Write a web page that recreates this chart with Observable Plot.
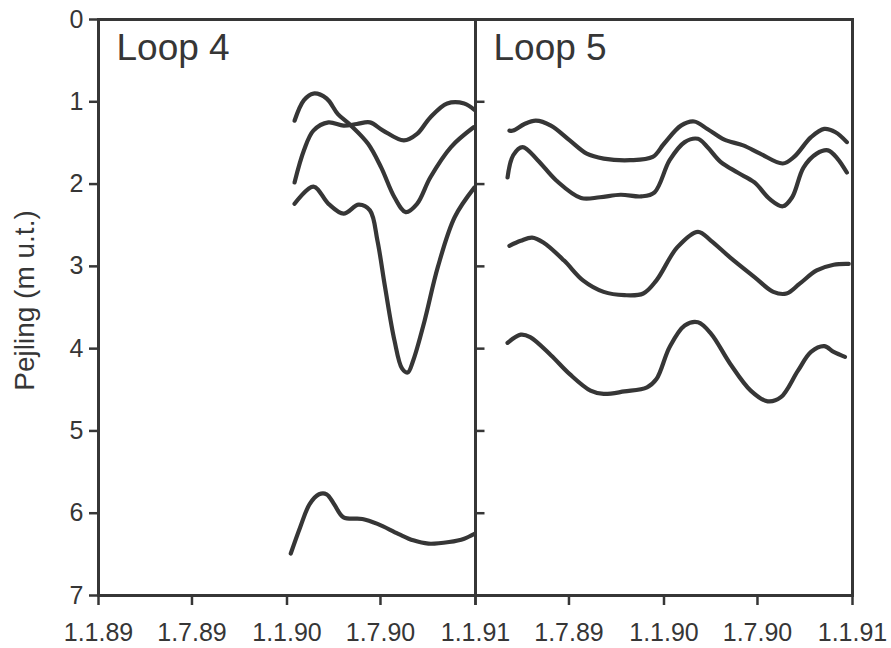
<!DOCTYPE html>
<html>
<head>
<meta charset="utf-8">
<script src="https://cdn.jsdelivr.net/npm/d3@7"></script>
<script src="https://cdn.jsdelivr.net/npm/@observablehq/plot@0.6"></script>
<style>
  html, body { margin: 0; padding: 0; background: #fff; }
  #chart svg { display: block; }
</style>
</head>
<body>
<div id="chart"></div>
<script>
// ---- Data (decimal year, depth in m below surface) ----
const loops = ["Loop 4", "Loop 5"];
const yTicks = [0, 1, 2, 3, 4, 5, 6, 7];
const yTitle = "Pejling (m u.t.)";
const xTickDates = ["1989-01-01", "1989-07-01", "1990-01-01", "1990-07-01", "1991-01-01"];
const xTickLabels = ["1.1.89", "1.7.89", "1.1.90", "1.7.90", "1.1.91"];

const loop4_a = [[1990.04,1.23],[1990.09,0.98],[1990.14,0.90],[1990.21,0.96],[1990.27,1.15],[1990.34,1.29],[1990.43,1.51],[1990.50,1.80],[1990.57,2.16],[1990.63,2.34],[1990.69,2.24],[1990.76,1.92],[1990.87,1.55],[1990.99,1.31]];
const loop4_b = [[1990.04,1.98],[1990.09,1.59],[1990.14,1.35],[1990.22,1.25],[1990.30,1.29],[1990.37,1.27],[1990.44,1.25],[1990.51,1.35],[1990.62,1.47],[1990.69,1.39],[1990.76,1.19],[1990.85,1.02],[1990.94,1.02],[1990.995,1.10]];
const loop4_c = [[1990.04,2.24],[1990.14,2.03],[1990.22,2.24],[1990.30,2.36],[1990.38,2.25],[1990.44,2.32],[1990.48,2.69],[1990.52,3.25],[1990.57,3.90],[1990.61,4.24],[1990.64,4.29],[1990.67,4.14],[1990.73,3.66],[1990.80,3.01],[1990.89,2.40],[1990.995,2.04]];
const loop4_d = [[1990.02,6.49],[1990.07,6.17],[1990.12,5.89],[1990.17,5.77],[1990.21,5.77],[1990.25,5.89],[1990.30,6.05],[1990.40,6.07],[1990.48,6.13],[1990.59,6.25],[1990.67,6.33],[1990.75,6.37],[1990.86,6.35],[1990.94,6.31],[1990.995,6.25]];

const loop5_a = [[1989.18,1.35],[1989.20,1.35],[1989.26,1.27],[1989.32,1.23],[1989.40,1.29],[1989.50,1.47],[1989.59,1.63],[1989.68,1.69],[1989.82,1.71],[1989.94,1.67],[1990.00,1.51],[1990.09,1.29],[1990.16,1.24],[1990.23,1.33],[1990.32,1.46],[1990.42,1.53],[1990.51,1.63],[1990.63,1.75],[1990.69,1.67],[1990.78,1.43],[1990.85,1.33],[1990.91,1.37],[1990.97,1.49]];
const loop5_b = [[1989.17,1.92],[1989.20,1.65],[1989.25,1.55],[1989.33,1.71],[1989.43,1.96],[1989.56,2.17],[1989.66,2.16],[1989.77,2.13],[1989.88,2.15],[1989.95,2.10],[1990.03,1.71],[1990.11,1.49],[1990.18,1.45],[1990.23,1.55],[1990.30,1.73],[1990.39,1.86],[1990.48,1.98],[1990.56,2.18],[1990.63,2.27],[1990.68,2.16],[1990.74,1.80],[1990.81,1.63],[1990.87,1.59],[1990.92,1.69],[1990.97,1.86]];
const loop5_c = [[1989.18,2.75],[1989.24,2.69],[1989.30,2.65],[1989.36,2.71],[1989.47,2.93],[1989.57,3.17],[1989.68,3.31],[1989.79,3.35],[1989.89,3.33],[1989.96,3.17],[1990.07,2.77],[1990.18,2.58],[1990.25,2.69],[1990.35,2.89],[1990.48,3.13],[1990.58,3.31],[1990.65,3.33],[1990.72,3.21],[1990.81,3.05],[1990.90,2.98],[1990.98,2.97]];
const loop5_d = [[1989.17,3.93],[1989.24,3.83],[1989.29,3.86],[1989.40,4.08],[1989.50,4.31],[1989.61,4.51],[1989.68,4.55],[1989.79,4.52],[1989.91,4.47],[1989.96,4.37],[1990.03,3.98],[1990.11,3.72],[1990.18,3.68],[1990.25,3.82],[1990.35,4.18],[1990.46,4.51],[1990.55,4.64],[1990.62,4.59],[1990.71,4.27],[1990.78,4.04],[1990.85,3.97],[1990.90,4.04],[1990.96,4.10]];

// ---- Build tables ----
function yearToDate(y) {
  const yr = Math.floor(y);
  const a = Date.UTC(yr, 0, 1), b = Date.UTC(yr + 1, 0, 1);
  return new Date(a + (y - yr) * (b - a));
}
const seriesList = [
  ["Loop 4", "a", loop4_a], ["Loop 4", "b", loop4_b], ["Loop 4", "c", loop4_c], ["Loop 4", "d", loop4_d],
  ["Loop 5", "a", loop5_a], ["Loop 5", "b", loop5_b], ["Loop 5", "c", loop5_c], ["Loop 5", "d", loop5_d]
];
const rows = seriesList.flatMap(([loop, s, pts]) =>
  pts.map(([t, d]) => ({loop, series: loop + s, date: yearToDate(t), depth: d})));

const xLabelRows = loops.flatMap(loop =>
  xTickDates.map((d, i) => ({loop, date: new Date(d + "T00:00:00Z"), label: xTickLabels[i]}))
    .filter((r, i) => !(loop === "Loop 5" && i === 0)));
const xTickRows = xTickDates.map(d => new Date(d + "T00:00:00Z"));
const midTicks = yTicks.filter(v => v > 0 && v < 7);

const W = 891, H = 648, ML = 97, MR = 39, MT = 19, MB = 53;
const facetW = (W - ML - MR) / loops.length;
const ink = "#363636";
const font = "'Liberation Sans', Arial, Helvetica, sans-serif";

const chart = Plot.plot({
  width: W, height: H,
  marginLeft: ML, marginRight: MR, marginTop: MT, marginBottom: MB,
  style: {fontFamily: font, color: ink, background: "#fff"},
  fx: {domain: loops, padding: 0, axis: null},
  x: {type: "utc", domain: [xTickRows[0], xTickRows[xTickRows.length - 1]], axis: null},
  y: {domain: [0, 7], reverse: true, axis: null},
  marks: [
    Plot.frame({stroke: ink, strokeWidth: 3}),
    Plot.axisY({ticks: yTicks, tickSize: 9, tickPadding: 6, fontSize: 25, strokeWidth: 2.5,
      label: null, tickFormat: d3.format("d")}),
    Plot.text([yTitle], {text: d => d, fx: () => loops[0], frameAnchor: "left", textAnchor: "middle",
      rotate: -90, dx: -73, dy: -7, fontSize: 28, fill: ink}),
    Plot.axisX(xTickRows, {tickSize: 10, strokeWidth: 2.5, tickFormat: () => "", label: null}),
    Plot.text(xLabelRows, {x: "date", fx: "loop", text: "label", frameAnchor: "bottom",
      lineAnchor: "top", dy: 28, fontSize: 25, fill: ink}),
    Plot.tickY(midTicks, {y: d => d, fx: () => loops[1], stroke: ink, strokeWidth: 2.5,
      insetRight: facetW - 10}),
    Plot.text(loops, {fx: d => d, text: d => d, frameAnchor: "top-left", lineAnchor: "top",
      dx: 18, dy: 14, fontSize: 37, fill: ink}),
    Plot.line(rows, {x: "date", y: "depth", z: "series", fx: "loop", curve: "catmull-rom",
      stroke: ink, strokeWidth: 4.2, strokeLinecap: "round", strokeLinejoin: "round"})
  ]
});
document.getElementById("chart").appendChild(chart);
</script>
</body>
</html>
